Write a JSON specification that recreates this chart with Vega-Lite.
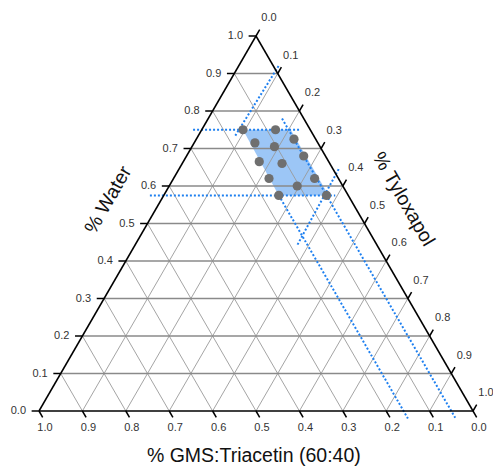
{
  "$schema": "https://vega.github.io/schema/vega-lite/v6.json",
  "width": 434,
  "height": 375,
  "autosize": "none",
  "padding": {"left": 39, "top": 36, "right": 20, "bottom": 55},
  "background": "white",
  "config": {"view": {"stroke": null}},
  "datasets": {
    "segments": [
      {"kind": "gw", "water": 0.1, "tyl": 0, "water2": 0.1, "tyl2": 0.9},
      {"kind": "gw", "water": 0.2, "tyl": 0, "water2": 0.2, "tyl2": 0.8},
      {"kind": "gw", "water": 0.3, "tyl": 0, "water2": 0.3, "tyl2": 0.7},
      {"kind": "gw", "water": 0.4, "tyl": 0, "water2": 0.4, "tyl2": 0.6},
      {"kind": "gw", "water": 0.5, "tyl": 0, "water2": 0.5, "tyl2": 0.5},
      {"kind": "gw", "water": 0.6, "tyl": 0, "water2": 0.6, "tyl2": 0.4},
      {"kind": "gw", "water": 0.7, "tyl": 0, "water2": 0.7, "tyl2": 0.3},
      {"kind": "gw", "water": 0.8, "tyl": 0, "water2": 0.8, "tyl2": 0.2},
      {"kind": "gw", "water": 0.9, "tyl": 0, "water2": 0.9, "tyl2": 0.1},
      {"kind": "gd", "water": 0.1, "tyl": 0, "water2": 0, "tyl2": 0.1},
      {"kind": "gd", "water": 0.2, "tyl": 0, "water2": 0, "tyl2": 0.2},
      {"kind": "gd", "water": 0.3, "tyl": 0, "water2": 0, "tyl2": 0.3},
      {"kind": "gd", "water": 0.4, "tyl": 0, "water2": 0, "tyl2": 0.4},
      {"kind": "gd", "water": 0.5, "tyl": 0, "water2": 0, "tyl2": 0.5},
      {"kind": "gd", "water": 0.6, "tyl": 0, "water2": 0, "tyl2": 0.6},
      {"kind": "gd", "water": 0.7, "tyl": 0, "water2": 0, "tyl2": 0.7},
      {"kind": "gd", "water": 0.8, "tyl": 0, "water2": 0, "tyl2": 0.8},
      {"kind": "gd", "water": 0.9, "tyl": 0, "water2": 0, "tyl2": 0.9},
      {"kind": "gd", "water": 0.9, "tyl": 0.1, "water2": 0, "tyl2": 0.1},
      {"kind": "gd", "water": 0.8, "tyl": 0.2, "water2": 0, "tyl2": 0.2},
      {"kind": "gd", "water": 0.7, "tyl": 0.3, "water2": 0, "tyl2": 0.3},
      {"kind": "gd", "water": 0.6, "tyl": 0.4, "water2": 0, "tyl2": 0.4},
      {"kind": "gd", "water": 0.5, "tyl": 0.5, "water2": 0, "tyl2": 0.5},
      {"kind": "gd", "water": 0.4, "tyl": 0.6, "water2": 0, "tyl2": 0.6},
      {"kind": "gd", "water": 0.3, "tyl": 0.7, "water2": 0, "tyl2": 0.7},
      {"kind": "gd", "water": 0.2, "tyl": 0.8, "water2": 0, "tyl2": 0.8},
      {"kind": "gd", "water": 0.1, "tyl": 0.9, "water2": 0, "tyl2": 0.9},
      {"kind": "blue", "water": 0.75, "tyl": -0.02, "water2": 0.75, "tyl2": 0.226},
      {"kind": "blue", "water": 0.575, "tyl": -0.032, "water2": 0.575, "tyl2": 0.395},
      {"kind": "blue", "water": 0.92, "tyl": 0.092, "water2": 0.73, "tyl2": 0.085},
      {"kind": "blue", "water": 0.645, "tyl": 0.368, "water2": 0.44, "tyl2": 0.374},
      {"kind": "blue", "water": 0.78, "tyl": 0.17, "water2": -0.018, "tyl2": 0.968},
      {"kind": "blue", "water": 0.575, "tyl": 0.265, "water2": -0.02, "tyl2": 0.86},
      {"kind": "edge", "water": 0, "tyl": 0, "water2": 0, "tyl2": 1},
      {"kind": "edge", "water": 0, "tyl": 0, "water2": 1, "tyl2": 0},
      {"kind": "edge", "water": 1, "tyl": 0, "water2": 0, "tyl2": 1},
      {"kind": "tick", "water": 0.0, "tyl": 0, "water2": 0.0, "tyl2": -0.017},
      {"kind": "tick", "water": 0.1, "tyl": 0, "water2": 0.1, "tyl2": -0.017},
      {"kind": "tick", "water": 0.2, "tyl": 0, "water2": 0.2, "tyl2": -0.017},
      {"kind": "tick", "water": 0.3, "tyl": 0, "water2": 0.3, "tyl2": -0.017},
      {"kind": "tick", "water": 0.4, "tyl": 0, "water2": 0.4, "tyl2": -0.017},
      {"kind": "tick", "water": 0.5, "tyl": 0, "water2": 0.5, "tyl2": -0.017},
      {"kind": "tick", "water": 0.6, "tyl": 0, "water2": 0.6, "tyl2": -0.017},
      {"kind": "tick", "water": 0.7, "tyl": 0, "water2": 0.7, "tyl2": -0.017},
      {"kind": "tick", "water": 0.8, "tyl": 0, "water2": 0.8, "tyl2": -0.017},
      {"kind": "tick", "water": 0.9, "tyl": 0, "water2": 0.9, "tyl2": -0.017},
      {"kind": "tick", "water": 1.0, "tyl": 0, "water2": 1.0, "tyl2": -0.017},
      {"kind": "tick", "water": 0, "tyl": 0.0, "water2": -0.017, "tyl2": 0.017},
      {"kind": "tick", "water": 0, "tyl": 0.1, "water2": -0.017, "tyl2": 0.117},
      {"kind": "tick", "water": 0, "tyl": 0.2, "water2": -0.017, "tyl2": 0.217},
      {"kind": "tick", "water": 0, "tyl": 0.3, "water2": -0.017, "tyl2": 0.317},
      {"kind": "tick", "water": 0, "tyl": 0.4, "water2": -0.017, "tyl2": 0.417},
      {"kind": "tick", "water": 0, "tyl": 0.5, "water2": -0.017, "tyl2": 0.517},
      {"kind": "tick", "water": 0, "tyl": 0.6, "water2": -0.017, "tyl2": 0.617},
      {"kind": "tick", "water": 0, "tyl": 0.7, "water2": -0.017, "tyl2": 0.717},
      {"kind": "tick", "water": 0, "tyl": 0.8, "water2": -0.017, "tyl2": 0.817},
      {"kind": "tick", "water": 0, "tyl": 0.9, "water2": -0.017, "tyl2": 0.917},
      {"kind": "tick", "water": 0, "tyl": 1.0, "water2": -0.017, "tyl2": 1.017},
      {"kind": "tick", "water": 1.0, "tyl": 0.0, "water2": 1.017, "tyl2": 0.0},
      {"kind": "tick", "water": 0.9, "tyl": 0.1, "water2": 0.917, "tyl2": 0.1},
      {"kind": "tick", "water": 0.8, "tyl": 0.2, "water2": 0.817, "tyl2": 0.2},
      {"kind": "tick", "water": 0.7, "tyl": 0.3, "water2": 0.717, "tyl2": 0.3},
      {"kind": "tick", "water": 0.6, "tyl": 0.4, "water2": 0.617, "tyl2": 0.4},
      {"kind": "tick", "water": 0.5, "tyl": 0.5, "water2": 0.517, "tyl2": 0.5},
      {"kind": "tick", "water": 0.4, "tyl": 0.6, "water2": 0.417, "tyl2": 0.6},
      {"kind": "tick", "water": 0.3, "tyl": 0.7, "water2": 0.317, "tyl2": 0.7},
      {"kind": "tick", "water": 0.2, "tyl": 0.8, "water2": 0.217, "tyl2": 0.8},
      {"kind": "tick", "water": 0.1, "tyl": 0.9, "water2": 0.117, "tyl2": 0.9},
      {"kind": "tick", "water": 0.0, "tyl": 1.0, "water2": 0.017, "tyl2": 1.0}
    ],
    "region": [
      {"water": 0.75, "tyl": 0.095, "tyl2": 0.205},
      {"water": 0.575, "tyl": 0.265, "tyl2": 0.38}
    ],
    "samples": [
      {"water": 0.75, "tyl": 0.095},
      {"water": 0.75, "tyl": 0.17},
      {"water": 0.715, "tyl": 0.14},
      {"water": 0.725, "tyl": 0.225},
      {"water": 0.705, "tyl": 0.19},
      {"water": 0.665, "tyl": 0.175},
      {"water": 0.68, "tyl": 0.27},
      {"water": 0.66, "tyl": 0.23},
      {"water": 0.62, "tyl": 0.22},
      {"water": 0.62, "tyl": 0.325},
      {"water": 0.6, "tyl": 0.295},
      {"water": 0.575, "tyl": 0.265},
      {"water": 0.575, "tyl": 0.375}
    ],
    "ticklabels": [
      {"side": "L", "water": 0.0, "tyl": 0, "text": "0.0"},
      {"side": "L", "water": 0.1, "tyl": 0, "text": "0.1"},
      {"side": "L", "water": 0.2, "tyl": 0, "text": "0.2"},
      {"side": "L", "water": 0.3, "tyl": 0, "text": "0.3"},
      {"side": "L", "water": 0.4, "tyl": 0, "text": "0.4"},
      {"side": "L", "water": 0.5, "tyl": 0, "text": "0.5"},
      {"side": "L", "water": 0.6, "tyl": 0, "text": "0.6"},
      {"side": "L", "water": 0.7, "tyl": 0, "text": "0.7"},
      {"side": "L", "water": 0.8, "tyl": 0, "text": "0.8"},
      {"side": "L", "water": 0.9, "tyl": 0, "text": "0.9"},
      {"side": "L", "water": 1.0, "tyl": 0, "text": "1.0"},
      {"side": "B", "water": 0, "tyl": 0.0, "text": "1.0"},
      {"side": "B", "water": 0, "tyl": 0.1, "text": "0.9"},
      {"side": "B", "water": 0, "tyl": 0.2, "text": "0.8"},
      {"side": "B", "water": 0, "tyl": 0.3, "text": "0.7"},
      {"side": "B", "water": 0, "tyl": 0.4, "text": "0.6"},
      {"side": "B", "water": 0, "tyl": 0.5, "text": "0.5"},
      {"side": "B", "water": 0, "tyl": 0.6, "text": "0.4"},
      {"side": "B", "water": 0, "tyl": 0.7, "text": "0.3"},
      {"side": "B", "water": 0, "tyl": 0.8, "text": "0.2"},
      {"side": "B", "water": 0, "tyl": 0.9, "text": "0.1"},
      {"side": "B", "water": 0, "tyl": 1.0, "text": "0.0"},
      {"side": "R", "water": 1.0, "tyl": 0.0, "text": "0.0"},
      {"side": "R", "water": 0.9, "tyl": 0.1, "text": "0.1"},
      {"side": "R", "water": 0.8, "tyl": 0.2, "text": "0.2"},
      {"side": "R", "water": 0.7, "tyl": 0.3, "text": "0.3"},
      {"side": "R", "water": 0.6, "tyl": 0.4, "text": "0.4"},
      {"side": "R", "water": 0.5, "tyl": 0.5, "text": "0.5"},
      {"side": "R", "water": 0.4, "tyl": 0.6, "text": "0.6"},
      {"side": "R", "water": 0.3, "tyl": 0.7, "text": "0.7"},
      {"side": "R", "water": 0.2, "tyl": 0.8, "text": "0.8"},
      {"side": "R", "water": 0.1, "tyl": 0.9, "text": "0.9"},
      {"side": "R", "water": 0.0, "tyl": 1.0, "text": "1.0"}
    ],
    "axistitles": [
      {"side": "L", "water": 0.563, "tyl": -0.122, "text": "% Water"},
      {"side": "R", "water": 0.565, "tyl": 0.557, "text": "% Tyloxapol"},
      {"side": "B", "water": -0.12, "tyl": 0.555, "text": "% GMS:Triacetin (60:40)"}
    ]
  },
  "encoding": {
    "x": {"field": "x", "type": "quantitative", "scale": {"domain": [0, 1], "nice": false, "zero": false}, "axis": null},
    "y": {"field": "water", "type": "quantitative", "scale": {"domain": [0, 1], "nice": false, "zero": false}, "axis": null}
  },
  "layer": [
    {
      "data": {"name": "region"},
      "transform": [
        {"calculate": "datum.tyl + datum.water / 2", "as": "x"},
        {"calculate": "datum.tyl2 + datum.water / 2", "as": "x2"}
      ],
      "mark": {"type": "area", "orient": "horizontal", "color": "#9cc6f6", "opacity": 1},
      "encoding": {"x2": {"field": "x2"}}
    },
    {
      "data": {"name": "segments"},
      "transform": [
        {"filter": "datum.kind === 'gd'"},
        {"calculate": "datum.tyl + datum.water / 2", "as": "x"},
        {"calculate": "datum.tyl2 + datum.water2 / 2", "as": "x2"}
      ],
      "mark": {"type": "rule", "color": "#9a9a9a", "strokeWidth": 0.9},
      "encoding": {"x2": {"field": "x2"}, "y2": {"field": "water2"}}
    },
    {
      "data": {"name": "segments"},
      "transform": [
        {"filter": "datum.kind === 'gw'"},
        {"calculate": "datum.tyl + datum.water / 2", "as": "x"},
        {"calculate": "datum.tyl2 + datum.water2 / 2", "as": "x2"}
      ],
      "mark": {"type": "rule", "color": "#8a8a8a", "strokeWidth": 1.6},
      "encoding": {"x2": {"field": "x2"}, "y2": {"field": "water2"}}
    },
    {
      "data": {"name": "segments"},
      "transform": [
        {"filter": "datum.kind === 'blue'"},
        {"calculate": "datum.tyl + datum.water / 2", "as": "x"},
        {"calculate": "datum.tyl2 + datum.water2 / 2", "as": "x2"}
      ],
      "mark": {"type": "rule", "color": "#1f80f0", "strokeWidth": 2, "strokeDash": [2, 2]},
      "encoding": {"x2": {"field": "x2"}, "y2": {"field": "water2"}}
    },
    {
      "data": {"name": "segments"},
      "transform": [
        {"filter": "datum.kind === 'edge' || datum.kind === 'tick'"},
        {"calculate": "datum.tyl + datum.water / 2", "as": "x"},
        {"calculate": "datum.tyl2 + datum.water2 / 2", "as": "x2"}
      ],
      "mark": {"type": "rule", "color": "#000000", "strokeWidth": 1.5},
      "encoding": {"x2": {"field": "x2"}, "y2": {"field": "water2"}}
    },
    {
      "data": {"name": "samples"},
      "transform": [{"calculate": "datum.tyl + datum.water / 2", "as": "x"}],
      "mark": {"type": "circle", "size": 85, "color": "#6f6f6f", "opacity": 1}
    },
    {
      "data": {"name": "ticklabels"},
      "transform": [
        {"filter": "datum.side === 'L'"},
        {"calculate": "datum.tyl + datum.water / 2", "as": "x"}
      ],
      "mark": {"type": "text", "align": "right", "baseline": "middle", "dx": -13, "font": "Liberation Sans", "fontSize": 11, "color": "#333333"},
      "encoding": {"text": {"field": "text"}}
    },
    {
      "data": {"name": "ticklabels"},
      "transform": [
        {"filter": "datum.side === 'B'"},
        {"calculate": "datum.tyl + datum.water / 2", "as": "x"}
      ],
      "mark": {"type": "text", "align": "center", "baseline": "middle", "dx": 6, "dy": 17, "font": "Liberation Sans", "fontSize": 11, "color": "#333333"},
      "encoding": {"text": {"field": "text"}}
    },
    {
      "data": {"name": "ticklabels"},
      "transform": [
        {"filter": "datum.side === 'R'"},
        {"calculate": "datum.tyl + datum.water / 2", "as": "x"}
      ],
      "mark": {"type": "text", "align": "center", "baseline": "middle", "dx": 13, "dy": -18, "font": "Liberation Sans", "fontSize": 11, "color": "#333333"},
      "encoding": {"text": {"field": "text"}}
    },
    {
      "data": {"name": "axistitles"},
      "transform": [
        {"filter": "datum.side === 'L'"},
        {"calculate": "datum.tyl + datum.water / 2", "as": "x"}
      ],
      "mark": {"type": "text", "align": "center", "baseline": "middle", "angle": 300, "font": "Liberation Sans", "fontSize": 19.5, "color": "#111111"},
      "encoding": {"text": {"field": "text"}}
    },
    {
      "data": {"name": "axistitles"},
      "transform": [
        {"filter": "datum.side === 'R'"},
        {"calculate": "datum.tyl + datum.water / 2", "as": "x"}
      ],
      "mark": {"type": "text", "align": "center", "baseline": "middle", "angle": 60, "font": "Liberation Sans", "fontSize": 19.5, "color": "#111111"},
      "encoding": {"text": {"field": "text"}}
    },
    {
      "data": {"name": "axistitles"},
      "transform": [
        {"filter": "datum.side === 'B'"},
        {"calculate": "datum.tyl + datum.water / 2", "as": "x"}
      ],
      "mark": {"type": "text", "align": "center", "baseline": "middle", "font": "Liberation Sans", "fontSize": 19.5, "color": "#111111"},
      "encoding": {"text": {"field": "text"}}
    }
  ]
}
